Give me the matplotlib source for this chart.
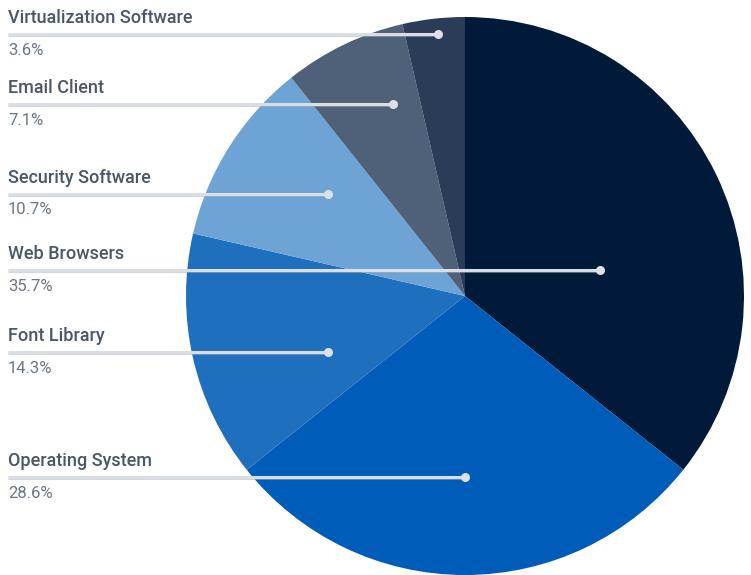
import matplotlib.pyplot as plt
import matplotlib.patheffects as pe

# software share, drawn clockwise from 12 o'clock
categories = ['Web Browsers', 'Operating System', 'Font Library',
              'Security Software', 'Email Client', 'Virtualization Software']
shares = [35.7, 28.6, 14.3, 10.7, 7.1, 3.6]
colors = ['#011a3a', '#005cb9', '#1f6fbf', '#6ea3d6', '#4f6079', '#2b3c58']

# leader dot positions (pie data units, radius = 1)
dot_x = [0.484, 0.0, -0.491, -0.491, -0.258, -0.097]
dot_y = [0.093, -0.649, -0.201, 0.366, 0.688, 0.939]

W, H = 751, 575
fig = plt.figure(figsize=(W / 100, H / 100), dpi=100)
cx, cy, r = 465, 296, 279
ax = fig.add_axes([(cx - r) / W, (H - cy - r) / H, 2 * r / W, 2 * r / H])
ax.pie(shares, colors=colors, startangle=90, counterclock=False, radius=1,
       wedgeprops=dict(linewidth=0))
ax.set_xlim(-1, 1)
ax.set_ylim(-1, 1)
ax.set_aspect('equal')
ax.axis('off')

left = (8 - cx) / r  # label column start in pie units
to_fig = lambda y: (H - (cy - y * r)) / H  # pie y -> figure fraction

for name, val, x, y in zip(categories, shares, dot_x, dot_y):
    ax.plot([left, x], [y, y], color='#dadee3', lw=2.2, clip_on=False,
            solid_capstyle='butt',
            path_effects=[pe.SimpleLineShadow(offset=(0, -1), shadow_color='#a9afb7', alpha=0.5),
                          pe.Normal()])
    ax.plot(x, y, 'o', ms=6.5, color='#dde1e6', mec='none', clip_on=False)
    fy = to_fig(y)
    fig.text(8 / W, fy + 16 / H, name, fontsize=13, family='Roboto', weight=500,
             color='#4b5766', va='center', ha='left')
    fig.text(8 / W, fy - 16 / H, f'{val}%', fontsize=12, family='Roboto',
             color='#6b7684', va='center', ha='left')

fig.savefig('out.png', dpi=100)
